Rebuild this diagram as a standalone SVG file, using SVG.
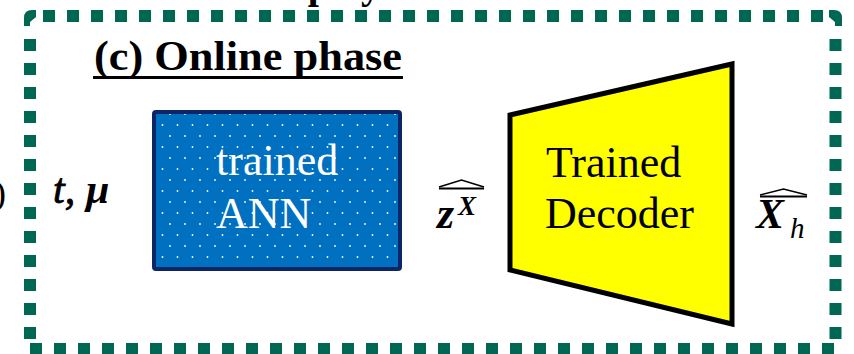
<svg xmlns="http://www.w3.org/2000/svg" width="854" height="354" viewBox="0 0 854 354">
  <style>
    .frame { stroke: #006852; stroke-width: 12; stroke-dasharray: 12 12; fill: none; }
    .serif { font-family: "Liberation Serif", "Times New Roman", serif; }
    .math { font-family: "Liberation Serif", "DejaVu Serif", serif; font-style: italic; }
    .hat { fill: none; stroke: #000; stroke-width: 1.6; stroke-linejoin: miter; }
  </style>
  <defs>
    <pattern id="dots" width="15" height="22" patternUnits="userSpaceOnUse" x="152" y="110">
      <rect width="15" height="22" fill="#0070C0"/>
      <circle cx="3" cy="4" r="0.9" fill="#ffffff"/>
      <circle cx="10.5" cy="15" r="0.9" fill="#ffffff"/>
    </pattern>
  </defs>

  <!-- cut-off text of the panels around this one -->
  <text class="serif" x="261" y="-2" font-size="40" font-weight="bold" fill="#000">Deployment</text>
  <text class="serif" x="6" y="205" font-size="36" text-anchor="end" fill="#000">)</text>

  <!-- dashed panel frame -->
  <g id="frame">
    <line class="frame" x1="43" y1="16" x2="823" y2="16"/>
    <line class="frame" x1="30" y1="39" x2="30" y2="339"/>
    <line class="frame" x1="835.5" y1="39" x2="835.5" y2="339"/>
    <line class="frame" x1="30" y1="349" x2="834" y2="349"/>
    <path d="M24 26 V18 Q24 10 32 10 H36 V17 L30 22 V26 Z" fill="#006852"/>
    <path d="M842 26 V18 Q842 10 834 10 H829 V17 L835 22 V26 Z" fill="#006852"/>
  </g>

  <!-- panel title -->
  <g id="title">
    <text class="serif" x="94" y="70" font-size="42" font-weight="bold" textLength="308" lengthAdjust="spacingAndGlyphs" fill="#000">(c) Online phase</text>
    <line x1="93" y1="77.5" x2="403" y2="77.5" stroke="#000" stroke-width="3"/>
  </g>

  <!-- inputs -->
  <g id="input">
    <text class="math" x="53" y="203" font-size="42" fill="#000" stroke="#000" stroke-width="0.8">t,</text>
    <text class="math" x="86" y="203" font-size="42" font-weight="bold" fill="#000">μ</text>
  </g>

  <!-- trained ANN -->
  <g id="ann">
    <rect x="154" y="112" width="246" height="157" rx="2" fill="url(#dots)" stroke="#0B2566" stroke-width="4"/>
    <text class="serif" x="216" y="175" font-size="44" fill="#fff">trained</text>
    <text class="serif" x="216" y="228" font-size="44" fill="#fff">ANN</text>
  </g>

  <!-- latent code -->
  <g id="latent">
    <polyline class="hat" points="439,187 461.5,180 484,187"/>
    <line x1="439" y1="188.5" x2="484" y2="188.5" stroke="#000" stroke-width="2"/>
    <text class="math" x="437" y="228" font-size="44" font-weight="bold" fill="#000">z</text>
    <text class="math" x="458" y="215" font-size="27" font-weight="bold" fill="#000">X</text>
  </g>

  <!-- trained decoder -->
  <g id="decoder">
    <polygon points="510,115 732,64 732,324 510,270" fill="#FFFF00" stroke="#000" stroke-width="5"/>
    <text class="serif" x="546" y="177" font-size="44" fill="#000">Trained</text>
    <text class="serif" x="545" y="228" font-size="44" fill="#000">Decoder</text>
  </g>

  <!-- reconstructed solution -->
  <g id="output">
    <polyline class="hat" points="760,195 783.5,189 807,195"/>
    <line x1="760" y1="196.5" x2="807" y2="196.5" stroke="#000" stroke-width="2"/>
    <text class="math" x="756" y="228" font-size="42" font-weight="bold" fill="#000">X</text>
    <text class="math" x="790" y="238" font-size="29" fill="#000">h</text>
  </g>

  <g id="connectors"></g>
</svg>
